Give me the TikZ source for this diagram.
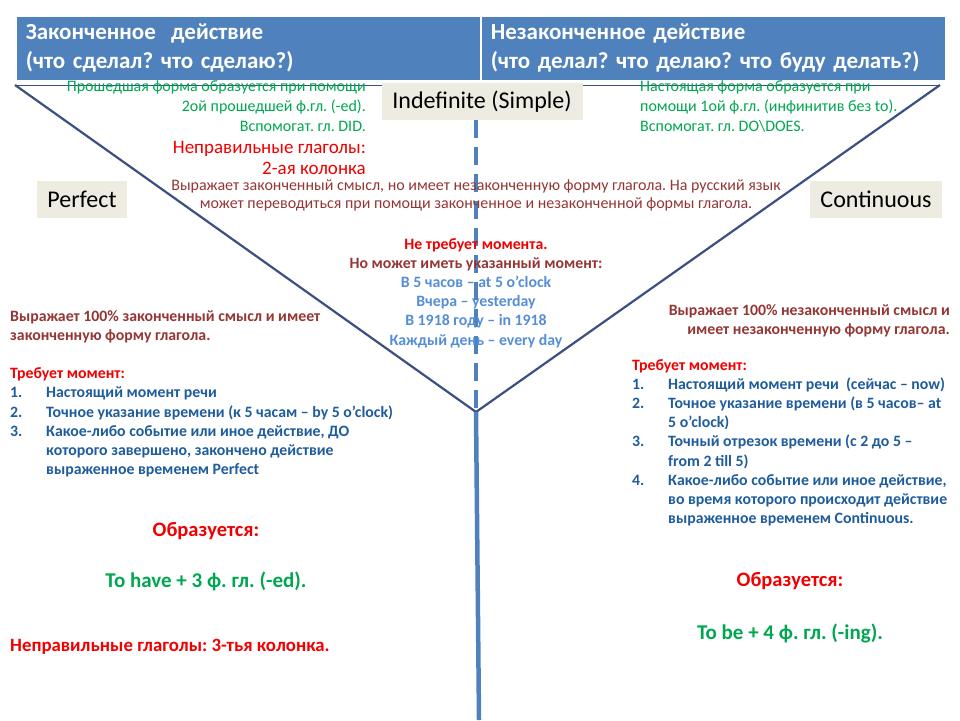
\documentclass[tikz,border=0pt]{standalone}
\usepackage{fontspec}
\setmainfont{Carlito}
\usetikzlibrary{calc}
\definecolor{hdrblue}{HTML}{4F81BD}
\definecolor{linenavy}{HTML}{3A5080}
\definecolor{boxgray}{HTML}{EEECE1}
\definecolor{txtgreen}{HTML}{00A650}
\definecolor{txtred}{HTML}{F00000}
\definecolor{txtbrown}{HTML}{943634}
\definecolor{txtblue}{HTML}{558ED5}
\definecolor{listblue}{HTML}{1E5C9C}
\def\fsz#1#2{\fontsize{#1}{#2}\selectfont}
\def\num#1{\makebox[36pt][l]{#1}}
\def\ind{\hspace*{36pt}}
\frenchspacing

\begin{document}
\begin{tikzpicture}[x=1pt,y=-1pt,
	hdrbox/.style={fill=hdrblue,draw=white,line width=1.5pt,anchor=north west,minimum width=465pt,minimum height=65pt,text width=445pt,align=left,text=white,font=\fsz{23}{29}\bfseries},
	tense/.style={fill=boxgray,inner sep=0pt,minimum height=37pt,font=\fsz{24}{26}},
	note/.style={inner sep=0pt},
	branch/.style={draw=linenavy,line width=2.2pt},
	axis/.style={draw=hdrblue,line width=4.5pt}]
			%%%%% START %%%%%
			
			\useasboundingbox (0,0) rectangle (960,720);
			
			\node[hdrbox] (done) at (15,15) {Законченное~ действие\\(что сделал? что сделаю?)};
			\node[hdrbox] (undone) at (480,15) {Незаконченное действие\\(что делал? что делаю? что буду делать?)};
			
			\coordinate (tl) at (15,85);
			\coordinate (tr) at (940,85);
			\coordinate (fork) at (476,412);
			\coordinate (foot) at (479,720);
			
			\draw[branch, line width=1pt] (tl) -- (tr);
			\draw[branch] (tl) -- (fork) -- (tr);
			
			\node[tense, minimum width=201pt] (indef) at (482,101.5) {Indefinite (Simple)};
			\node[tense, minimum width=90pt] (perf) at (82,199) {Perfect};
			\node[tense, minimum width=132pt] (cont) at (876,199) {Continuous};
			
			\draw[axis, line width=4pt, dash pattern=on 18pt off 9pt] (indef.south -| fork) -- (fork);
			\draw[axis] (fork) -- (foot);
			
			% Indefinite
			\node[note, anchor=north east, align=right, text=txtgreen, font=\fsz{16}{20}] (pastform) at (366,80) {Прошедшая форма образуется при помощи\\2ой прошедшей ф.гл. (-ed).\\Вспомогат. гл. DID.};
			\node[note, anchor=north east, align=right, text=txtred, font=\fsz{19}{21}] (irreg2) at (366,141) {Неправильные глаголы:\\2-ая колонка};
			\node[note, anchor=north west, align=left, text=txtgreen, font=\fsz{16}{20}] (presform) at (640,80) {Настоящая форма образуется при\\помощи 1ой ф.гл. (инфинитив без to).\\Вспомогат. гл. DO\textbackslash DOES.};
			\node[note, anchor=north, align=center, text=txtbrown, font=\fsz{16}{18}] (indefmean) at (476,179) {Выражает законченный смысл, но имеет незаконченную форму глагола. На русский язык\\может переводиться при помощи законченное и незаконченной формы глагола.};
			\node[note, anchor=north, align=center, font=\fsz{15.8}{19.2}\bfseries] (indefmom) at (476,238) {\textcolor{txtred}{Не требует момента.}\\\textcolor{txtbrown}{Но может иметь указанный момент:}\\\color{txtblue}В 5 часов – at 5 o’clock\\\color{txtblue}Вчера – yesterday\\\color{txtblue}В 1918 году – in 1918\\\color{txtblue}Каждый день – every day};
			
			% Perfect
			\node[note, anchor=north west, align=left, font=\fsz{15.8}{19.2}\bfseries] (perfmean) at (10,310) {\textcolor{txtbrown}{Выражает 100\% законченный смысл и имеет}\\\textcolor{txtbrown}{законченную форму глагола.}\\[19.2pt]\textcolor{txtred}{Требует момент:}\\\color{listblue}\num{1.}Настоящий момент речи\\\color{listblue}\num{2.}Точное указание времени (к 5 часам – by 5 o’clock)\\\color{listblue}\num{3.}Какое-либо событие или иное действие, ДО\\\color{listblue}\ind которого завершено, закончено действие\\\color{listblue}\ind выраженное временем Perfect};
			\node[note, text=txtred, font=\fsz{20.5}{24}\bfseries] (perfhow) at (206,531) {Образуется:};
			\node[note, text=txtgreen, font=\fsz{21}{24}\bfseries] (perfform) at (206,581) {To have + 3 ф. гл. (-ed).};
			\node[note, anchor=west, text=txtred, font=\fsz{18.8}{20}\bfseries] (irreg3) at (10,647) {Неправильные глаголы: 3-тья колонка.};
			
			% Continuous
			\node[note, anchor=north east, align=right, text=txtbrown, font=\fsz{15.8}{19}\bfseries] (contmean) at (950,304) {Выражает 100\% незаконченный смысл и\\имеет незаконченную форму глагола.};
			\node[note, anchor=north west, align=left, font=\fsz{15.8}{19.2}\bfseries] (contmom) at (632,359) {\textcolor{txtred}{Требует момент:}\\\color{listblue}\num{1.}Настоящий момент речи~ (сейчас – now)\\\color{listblue}\num{2.}Точное указание времени (в 5 часов– at\\\color{listblue}\ind 5 o’clock)\\\color{listblue}\num{3.}Точный отрезок времени (с 2 до 5 –\\\color{listblue}\ind from 2 till 5)\\\color{listblue}\num{4.}Какое-либо событие или иное действие,\\\color{listblue}\ind во время которого происходит действие\\\color{listblue}\ind выраженное временем Continuous.};
			\node[note, text=txtred, font=\fsz{20.5}{24}\bfseries] (conthow) at (790,581) {Образуется:};
			\node[note, text=txtgreen, font=\fsz{21}{24}\bfseries] (contform) at (790,633) {To be + 4 ф. гл. (-ing).};
			
			%%%%% END %%%%%
\end{tikzpicture}
\end{document}
